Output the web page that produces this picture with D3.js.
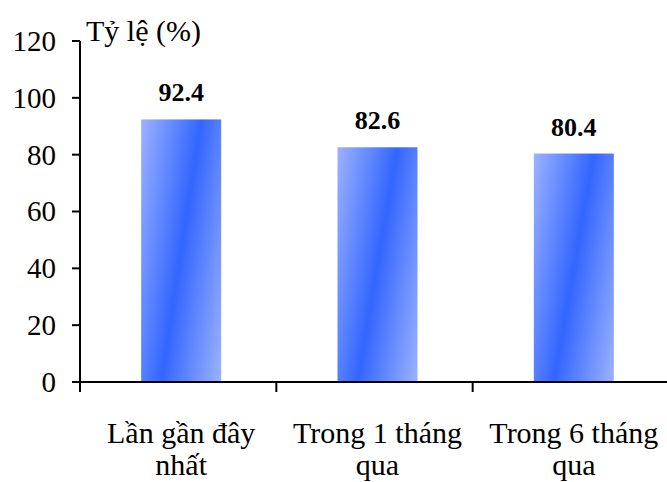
<!DOCTYPE html>
<html><head><meta charset="utf-8">
<script src="https://cdn.jsdelivr.net/npm/d3@7"></script>
<style>body{margin:0;background:#fff}svg{display:block}</style>
</head><body>
<script>
const categories = [["Lần gần đây","nhất"],["Trong 1 tháng","qua"],["Trong 6 tháng","qua"]];
const values = [92.4, 82.6, 80.4];
const yTicks = [0,20,40,60,80,100,120];
const yTitle = "Tỷ lệ (%)";

const W=667,H=482;
const FF='"Liberation Serif", "Times New Roman", serif';
const svg=d3.select("body").append("svg").attr("width",W).attr("height",H);
const x=d3.scaleBand().domain(d3.range(values.length)).range([80,669]).paddingInner(0).paddingOuter(0);
const y=d3.scaleLinear().domain([0,120]).range([382,41]);

const defs=svg.append("defs");
const g=defs.append("linearGradient").attr("id","bg").attr("x1",0).attr("y1",0).attr("x2",1.2).attr("y2",0.6);
g.append("stop").attr("offset",0).attr("stop-color","#9cb2ff");
g.append("stop").attr("offset",0.5).attr("stop-color","#3366ff");
g.append("stop").attr("offset",1).attr("stop-color","#9cb2ff");

const bw=80;
svg.selectAll("rect.bar").data(values).join("rect").attr("class","bar")
  .attr("x",(d,i)=>x(i)+x.bandwidth()/2-bw/2+3).attr("width",bw)
  .attr("y",d=>y(d)).attr("height",d=>y(0)-y(d)).attr("fill","url(#bg)");

svg.selectAll("text.val").data(values).join("text").attr("class","val")
  .attr("x",(d,i)=>x(i)+x.bandwidth()/2+3).attr("y",d=>y(d)-18)
  .attr("text-anchor","middle").style("font-weight","bold").style("font-size","26px")
  .style("font-family",FF).text(d=>d.toFixed(1));

// y axis
const ya=svg.append("g");
ya.append("line").attr("x1",80).attr("x2",80).attr("y1",y(120)).attr("y2",y(0)+10).attr("stroke","#000").attr("stroke-width",2);
ya.selectAll("line.t").data(yTicks).join("line").attr("class","t")
  .attr("x1",72).attr("x2",80).attr("y1",d=>y(d)).attr("y2",d=>y(d)).attr("stroke","#000").attr("stroke-width",2);
ya.selectAll("text").data(yTicks).join("text")
  .attr("x",56).attr("y",d=>y(d)).attr("dy","0.34em").attr("text-anchor","end").style("font-size","29px")
  .style("font-family",FF).text(d=>d);

// x axis
const xa=svg.append("g");
xa.append("line").attr("x1",80).attr("x2",W).attr("y1",y(0)).attr("y2",y(0)).attr("stroke","#000").attr("stroke-width",2);
xa.selectAll("line.t").data(d3.range(values.length)).join("line").attr("class","t")
  .attr("x1",i=>x(i)).attr("x2",i=>x(i)).attr("y1",y(0)).attr("y2",y(0)+10).attr("stroke","#000").attr("stroke-width",2);
const cl=xa.selectAll("text").data(categories).join("text")
  .attr("text-anchor","middle").style("font-size","30px").style("font-family",FF);
cl.each(function(d,i){
  const t=d3.select(this);
  d.forEach((s,k)=>t.append("tspan").attr("x",x(i)+x.bandwidth()/2+3).attr("y",443+k*32).text(s));
});

svg.append("text").attr("x",86).attr("y",41).style("font-size","30px").style("font-family",FF).text(yTitle);
</script>
</body></html>
